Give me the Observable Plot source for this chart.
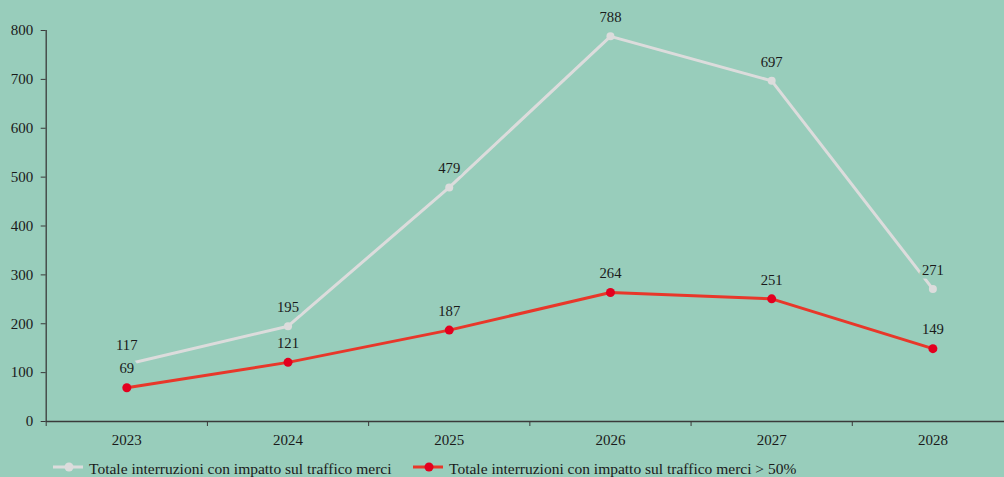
<!DOCTYPE html>
<html>
<head>
<meta charset="utf-8">
<script src="https://cdn.jsdelivr.net/npm/d3@7"></script>
<script src="https://cdn.jsdelivr.net/npm/@observablehq/plot@0.6"></script>
<style>
  html, body { margin: 0; padding: 0; background: #98cdbb; overflow: hidden; width: 1004px; height: 477px; }
  #chart { position: relative; width: 1004px; height: 477px; }
  .legend { position: absolute; top: 0; left: 0; width: 1004px; height: 477px; pointer-events: none; font-family: "Liberation Serif", "Times New Roman", serif; font-size: 15.5px; color: #1a1a1a; }
  .legend svg { position: absolute; top: 461px; }
  .legend span { position: absolute; top: 461px; line-height: 15.5px; white-space: nowrap; }
</style>
</head>
<body>
<div id="chart"></div>
<script>
const years = ["2023", "2024", "2025", "2026", "2027", "2028"];
const totale = [117, 195, 479, 788, 697, 271];
const totale50 = [69, 121, 187, 264, 251, 149];
const seriesNames = ["Totale interruzioni con impatto sul traffico merci", "Totale interruzioni con impatto sul traffico merci > 50%"];
const yTicks = [0, 100, 200, 300, 400, 500, 600, 700, 800];

const bg = "#98cdbb";
const greyCol = "#dcdcdc";
const redLine = "#e8372a";
const redDot = "#e3001f";
const ink = "#1a1a1a";

const idx = years.map((_, i) => i);
const grey = idx.map(i => ({i, v: totale[i]}));
const red = idx.map(i => ({i, v: totale50[i]}));

const font = "'Liberation Serif', 'Times New Roman', serif";

const chart = Plot.plot({
  width: 1004,
  height: 457,
  marginLeft: 45.7,
  marginRight: -9,
  marginTop: 30,
  marginBottom: 36,
  style: { background: bg, fontFamily: font, fontSize: "15px", color: ink, overflow: "hidden" },
  x: { type: "linear", domain: [-0.5, years.length - 0.5] },
  y: { domain: [0, 800] },
  marks: [
    Plot.ruleY([0], { stroke: "#3a3a3a", strokeWidth: 1.3 }),
    Plot.ruleX([-0.5], { y1: 0, y2: 800, stroke: "#3a3a3a", strokeWidth: 1.3 }),
    Plot.axisY({ ticks: yTicks, tickSize: 5, tickPadding: 8, stroke: "#3a3a3a", fill: ink, fontSize: "15px", label: null }),
    Plot.axisX({ ticks: d3.range(-0.5, years.length, 1), tickSize: 5, stroke: "#3a3a3a", text: null, label: null }),
    Plot.axisX({ ticks: idx, tickSize: 0, tickPadding: 13, tickFormat: i => years[i], fill: ink, fontSize: "15px", label: null }),
    Plot.line(grey, { x: "i", y: "v", stroke: greyCol, strokeWidth: 3 }),
    Plot.dot(grey, { x: "i", y: "v", fill: greyCol, r: 4 }),
    Plot.line(red, { x: "i", y: "v", stroke: redLine, strokeWidth: 3 }),
    Plot.dot(red, { x: "i", y: "v", fill: redDot, r: 4.5 }),
    Plot.text(grey, { x: "i", y: "v", text: d => String(d.v), dy: -19, fill: ink, stroke: bg, strokeWidth: 7, fontSize: 14.7 }),
    Plot.text(red, { x: "i", y: "v", text: d => String(d.v), dy: -19, fill: ink, stroke: bg, strokeWidth: 7, fontSize: 14.7 })
  ]
});
document.getElementById("chart").appendChild(chart);

const legend = document.createElement("div");
legend.className = "legend";
const items = [
  { left: 53, line: greyCol, dot: greyCol, name: seriesNames[0] },
  { left: 413, line: redLine, dot: redDot, name: seriesNames[1] }
];
items.forEach(it => {
  const s = document.createElementNS("http://www.w3.org/2000/svg", "svg");
  s.setAttribute("width", "30");
  s.setAttribute("height", "12");
  s.style.left = it.left + "px";
  s.innerHTML = `<line x1="0" y1="6" x2="30" y2="6" stroke="${it.line}" stroke-width="3"/><circle cx="16" cy="6" r="4.5" fill="${it.dot}"/>`;
  legend.appendChild(s);
  const t = document.createElement("span");
  t.style.left = (it.left + 36) + "px";
  t.textContent = it.name;
  legend.appendChild(t);
});
document.getElementById("chart").appendChild(legend);
</script>
</body>
</html>
